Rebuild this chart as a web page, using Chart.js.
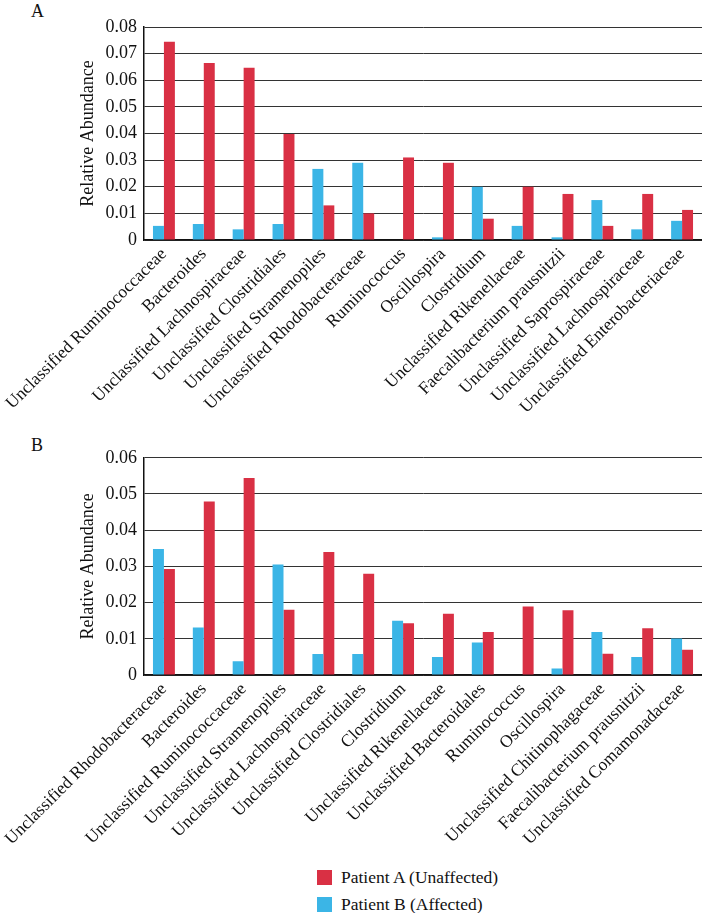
<!DOCTYPE html>
<html>
<head>
<meta charset="utf-8">
<script src="https://cdn.jsdelivr.net/npm/chart.js@4.4.1/dist/chart.umd.min.js"></script>
<style>
  body { margin: 0; background: #fff; font-family: "Liberation Serif", "DejaVu Serif", serif; color: #111; }
  #wrap { position: relative; width: 702px; height: 913px; }
  .panel { position: absolute; left: 31px; font-size: 18px; }
  canvas { position: absolute; left: 0; }
  #legend { position: absolute; left: 317px; top: 864px; font-size: 17.5px; }
  .item { display: flex; align-items: center; height: 27px; }
  .swatch { width: 15px; height: 15px; margin-right: 9px; }
</style>
</head>
<body>
<div id="wrap">
  <div class="panel" style="top:1px">A</div>
  <canvas id="chartA" width="702" height="420" style="top:0"></canvas>
  <div class="panel" style="top:435px">B</div>
  <canvas id="chartB" width="702" height="410" style="top:440px"></canvas>
  <div id="legend"></div>
</div>
<script>
const seriesNames = ["Patient A (Unaffected)", "Patient B (Affected)"];
const red = "#d93044";
const blue = "#3bb5e6";

// panel A
const categoriesA = [
  "Unclassified Ruminococcaceae", "Bacteroides", "Unclassified Lachnospiraceae",
  "Unclassified Clostridiales", "Unclassified Stramenopiles", "Unclassified Rhodobacteraceae",
  "Ruminococcus", "Oscillospira", "Clostridium", "Unclassified Rikenellaceae",
  "Faecalibacterium prausnitzii", "Unclassified Saprospiraceae",
  "Unclassified Lachnospiraceae", "Unclassified Enterobacteriaceae"
];
const unaffectedA = [0.0745, 0.0665, 0.0647, 0.0398, 0.013, 0.010, 0.031, 0.029, 0.008, 0.020, 0.0173, 0.0053, 0.0173, 0.0113];
const affectedA = [0.0053, 0.006, 0.004, 0.006, 0.0267, 0.029, 0, 0.001, 0.020, 0.0053, 0.001, 0.015, 0.004, 0.0072];
const yMaxA = 0.08;

// panel B
const categoriesB = [
  "Unclassified Rhodobacteraceae", "Bacteroides", "Unclassified Ruminococcaceae",
  "Unclassified Stramenopiles", "Unclassified Lachnospiraceae", "Unclassified Clostridiales",
  "Clostridium", "Unclassified Rikenellaceae", "Unclassified Bacteroidales",
  "Ruminococcus", "Oscillospira", "Unclassified Chitinophagaceae",
  "Faecalibacterium prausnitzii", "Unclassified Comamonadaceae"
];
const unaffectedB = [0.0293, 0.0479, 0.0544, 0.018, 0.034, 0.028, 0.0143, 0.0169, 0.0119, 0.0189, 0.0179, 0.0059, 0.0129, 0.007];
const affectedB = [0.0348, 0.0131, 0.0038, 0.0305, 0.0058, 0.0058, 0.015, 0.005, 0.009, 0, 0.0018, 0.0119, 0.005, 0.0101];
const yMaxB = 0.06;
const yStep = 0.01;

Chart.defaults.font.family = '"Liberation Serif", "DejaVu Serif", serif';
Chart.defaults.color = "#111";

function makeChart(id, labels, affected, unaffected, yMax, padTop, xHeight) {
  return new Chart(document.getElementById(id), {
    type: "bar",
    data: {
      labels: labels,
      datasets: [
        { label: seriesNames[1], data: affected, backgroundColor: blue },
        { label: seriesNames[0], data: unaffected, backgroundColor: red }
      ]
    },
    options: {
      responsive: false,
      animation: false,
      devicePixelRatio: 1,
      categoryPercentage: 0.55,
      barPercentage: 1.0,
      layout: { padding: { top: padTop, left: 0, right: 0, bottom: 0 } },
      plugins: { legend: { display: false }, tooltip: { enabled: false } },
      scales: {
        x: {
          grid: { display: false, drawTicks: false },
          border: { display: true, color: "#111", width: 1.5 },
          ticks: { autoSkip: false, minRotation: 45, maxRotation: 45, padding: 4, font: { size: 17.5 } },
          afterFit: (s) => { s.height = xHeight; s.paddingLeft = 0; s.paddingRight = 0; }
        },
        y: {
          min: 0,
          max: yMax,
          border: { display: true, color: "#111", width: 1.5 },
          grid: { color: "#333", lineWidth: 1, drawTicks: false },
          ticks: {
            stepSize: yStep, padding: 7, font: { size: 18 },
            callback: (v) => v === 0 ? "0" : v.toFixed(2)
          },
          title: {
            display: true, text: "Relative Abundance", font: { size: 18 },
            padding: { top: 77, bottom: 0 }
          },
          afterFit: (s) => { s.width = 144; }
        }
      }
    }
  });
}

makeChart("chartA", categoriesA, affectedA, unaffectedA, yMaxA, 27, 180);
makeChart("chartB", categoriesB, affectedB, unaffectedB, yMaxB, 17, 175);

// legend
const legend = document.getElementById("legend");
[[seriesNames[0], red], [seriesNames[1], blue]].forEach(([name, col]) => {
  const row = document.createElement("div");
  row.className = "item";
  row.innerHTML = '<span class="swatch" style="background:' + col + '"></span><span>' + name + '</span>';
  legend.appendChild(row);
});
</script>
</body>
</html>
